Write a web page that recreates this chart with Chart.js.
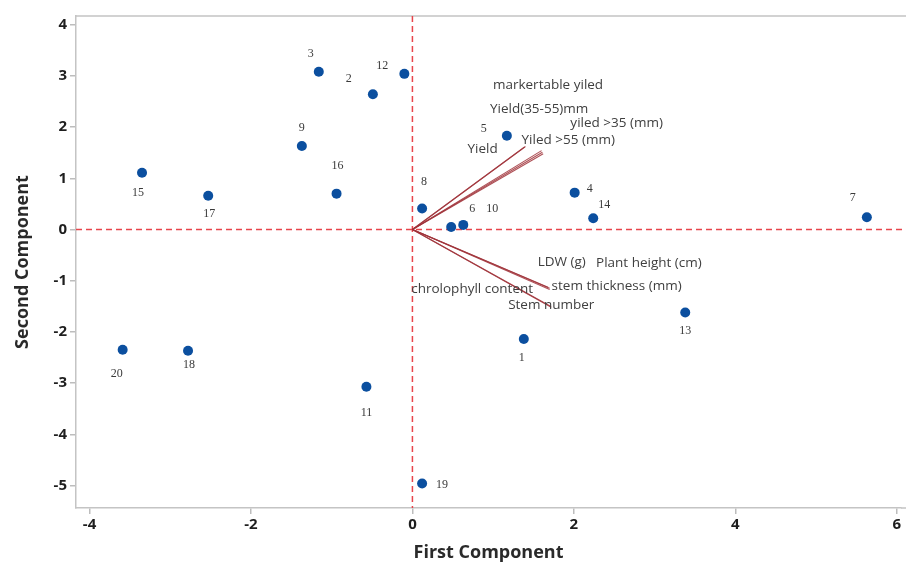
<!DOCTYPE html>
<html>
<head>
<meta charset="utf-8">
<script src="https://cdn.jsdelivr.net/npm/chart.js@4/dist/chart.umd.min.js"></script>
<style>
  html, body { margin: 0; padding: 0; background: #fff; }
  #wrap { width: 906px; height: 565px; }
</style>
</head>
<body>
<div id="wrap"><canvas id="biplot"></canvas></div>
<script>
// observations (scores)
var obsIds = ['1','2','3','4','5','6','7','8','9','10','11','12','13','14','15','16','17','18','19','20'];
var obsX = [1.38, -0.49, -1.16, 2.01, 1.17, 0.63, 5.63, 0.12, -1.37, 0.48, -0.57, -0.10, 3.38, 2.24, -3.35, -0.94, -2.53, -2.78, 0.12, -3.59];
var obsY = [-2.14, 2.64, 3.08, 0.72, 1.83, 0.09, 0.24, 0.41, 1.63, 0.05, -3.07, 3.04, -1.62, 0.22, 1.11, 0.70, 0.66, -2.37, -4.96, -2.35];

// variables (loadings)
var varNames = ['markertable yiled', 'Yield(35-55)mm', 'yiled >35 (mm)', 'Yiled >55 (mm)', 'Yield',
                'LDW (g)', 'Plant height (cm)', 'stem thickness (mm)', 'chrolophyll content', 'Stem number'];
var varX = [1.40, 1.60, 1.61, 1.62, 1.39, 1.68, 1.70, 1.70, 1.71, 1.72];
var varY = [1.62, 1.54, 1.51, 1.48, 1.61, -1.13, -1.15, -1.17, -1.50, -1.52];

var xTicks = [-4, -2, 0, 2, 4, 6];
var yTicks = [-5, -4, -3, -2, -1, 0, 1, 2, 3, 4];

// where the name of each variable sits (data units), as in the picture
var varLabelX = [1.68, 1.57, 2.53, 1.93, 0.87, 1.85, 2.93, 2.53, 0.74, 1.72];
var varLabelY = [2.82, 2.36, 2.08, 1.75, 1.57, -0.63, -0.65, -1.10, -1.16, -1.48];

// pixel nudges for the observation numbers
var idNudge = [[-2,19],[-24,-15],[-8,-18],[15,-4],[-23,-7],[9,-16],[-14,-19],[2,-27],[0,-18],[41,-18],
               [0,26],[-22,-8],[0,18],[11,-13],[-4,20],[1,-28],[1,18],[1,14],[20,1],[-6,24]];

var points = obsX.map(function(x, i) { return {x: x, y: obsY[i]}; });

var datasets = [{
  type: 'scatter',
  data: points,
  pointRadius: 5,
  pointHoverRadius: 5,
  backgroundColor: '#0b4f9f',
  borderWidth: 0
}];
varNames.forEach(function(n, i) {
  datasets.push({
    type: 'line',
    data: [{x: 0, y: 0}, {x: varX[i], y: varY[i]}],
    borderColor: 'rgba(160,50,58,0.85)',
    borderWidth: 1.1,
    pointRadius: 0,
    fill: false
  });
});

var extras = {
  id: 'extras',
  beforeDatasetsDraw: function(chart) {
    var c = chart.ctx, a = chart.chartArea, sx = chart.scales.x, sy = chart.scales.y;
    c.save();
    // frame: top edge, and bottom edge carried to the canvas edge
    c.strokeStyle = '#c4c4c4';
    c.lineWidth = 1.5;
    c.beginPath();
    c.moveTo(a.left, a.top);
    c.lineTo(chart.width, a.top);
    c.moveTo(a.right, a.bottom);
    c.lineTo(chart.width, a.bottom);
    c.stroke();
    // zero reference lines
    c.strokeStyle = '#e8454b';
    c.lineWidth = 1.5;
    c.setLineDash([6, 4]);
    var x0 = sx.getPixelForValue(0), y0 = sy.getPixelForValue(0);
    c.beginPath();
    c.moveTo(x0, a.top);
    c.lineTo(x0, a.bottom);
    c.moveTo(a.left, y0);
    c.lineTo(chart.width, y0);
    c.stroke();
    c.restore();
  },
  afterDatasetsDraw: function(chart) {
    var c = chart.ctx, sx = chart.scales.x, sy = chart.scales.y;
    c.save();
    c.textAlign = 'center';
    c.textBaseline = 'middle';
    c.fillStyle = '#3a3a3a';
    c.font = '12px "Liberation Serif", "DejaVu Serif", serif';
    obsIds.forEach(function(id, i) {
      var px = sx.getPixelForValue(obsX[i]) + idNudge[i][0];
      var py = sy.getPixelForValue(obsY[i]) + idNudge[i][1];
      c.fillText(id, px, py);
    });
    c.font = '13.5px "Open Sans", sans-serif';
    c.fillStyle = '#404040';
    varNames.forEach(function(n, i) {
      c.fillText(n, sx.getPixelForValue(varLabelX[i]), sy.getPixelForValue(varLabelY[i]));
    });
    c.restore();
  }
};

var tickFont = {family: '"Open Sans", sans-serif', size: 15, weight: 'bold'};
var titleFont = {family: '"Open Sans", sans-serif', size: 18, weight: 'bold'};

new Chart(document.getElementById('biplot'), {
  data: {datasets: datasets},
  options: {
    responsive: true,
    maintainAspectRatio: false,
    animation: false,
    events: [],
    layout: {padding: {top: 16, left: 0, right: 0, bottom: 0}},
    plugins: {legend: {display: false}, tooltip: {enabled: false}},
    scales: {
      x: {
        type: 'linear',
        min: -4.168,
        max: 6.053,
        afterBuildTicks: function(s) { s.ticks = xTicks.map(function(v) { return {value: v}; }); },
        afterFit: function(s) { s.height = 57; },
        ticks: {font: tickFont, color: '#1e1e1e', padding: 2},
        grid: {drawOnChartArea: false, drawTicks: true, tickLength: 6, color: '#bdbdbd', lineWidth: 1.5},
        border: {display: true, color: '#c4c4c4', width: 1.5},
        title: {display: true, text: 'First Component', font: titleFont, color: '#2a2a2a', padding: {top: 0, bottom: 1}}
      },
      y: {
        type: 'linear',
        min: -5.44,
        max: 4.17,
        afterBuildTicks: function(s) { s.ticks = yTicks.map(function(v) { return {value: v}; }); },
        afterFit: function(s) { s.width = 76; },
        ticks: {font: tickFont, color: '#1e1e1e', padding: 3},
        grid: {drawOnChartArea: false, drawTicks: true, tickLength: 6, color: '#bdbdbd', lineWidth: 1.5},
        border: {display: true, color: '#c4c4c4', width: 1.5},
        title: {display: true, text: 'Second Component', font: titleFont, color: '#2a2a2a', padding: {top: 12, bottom: 0}}
      }
    }
  },
  plugins: [extras]
});
</script>
</body>
</html>
